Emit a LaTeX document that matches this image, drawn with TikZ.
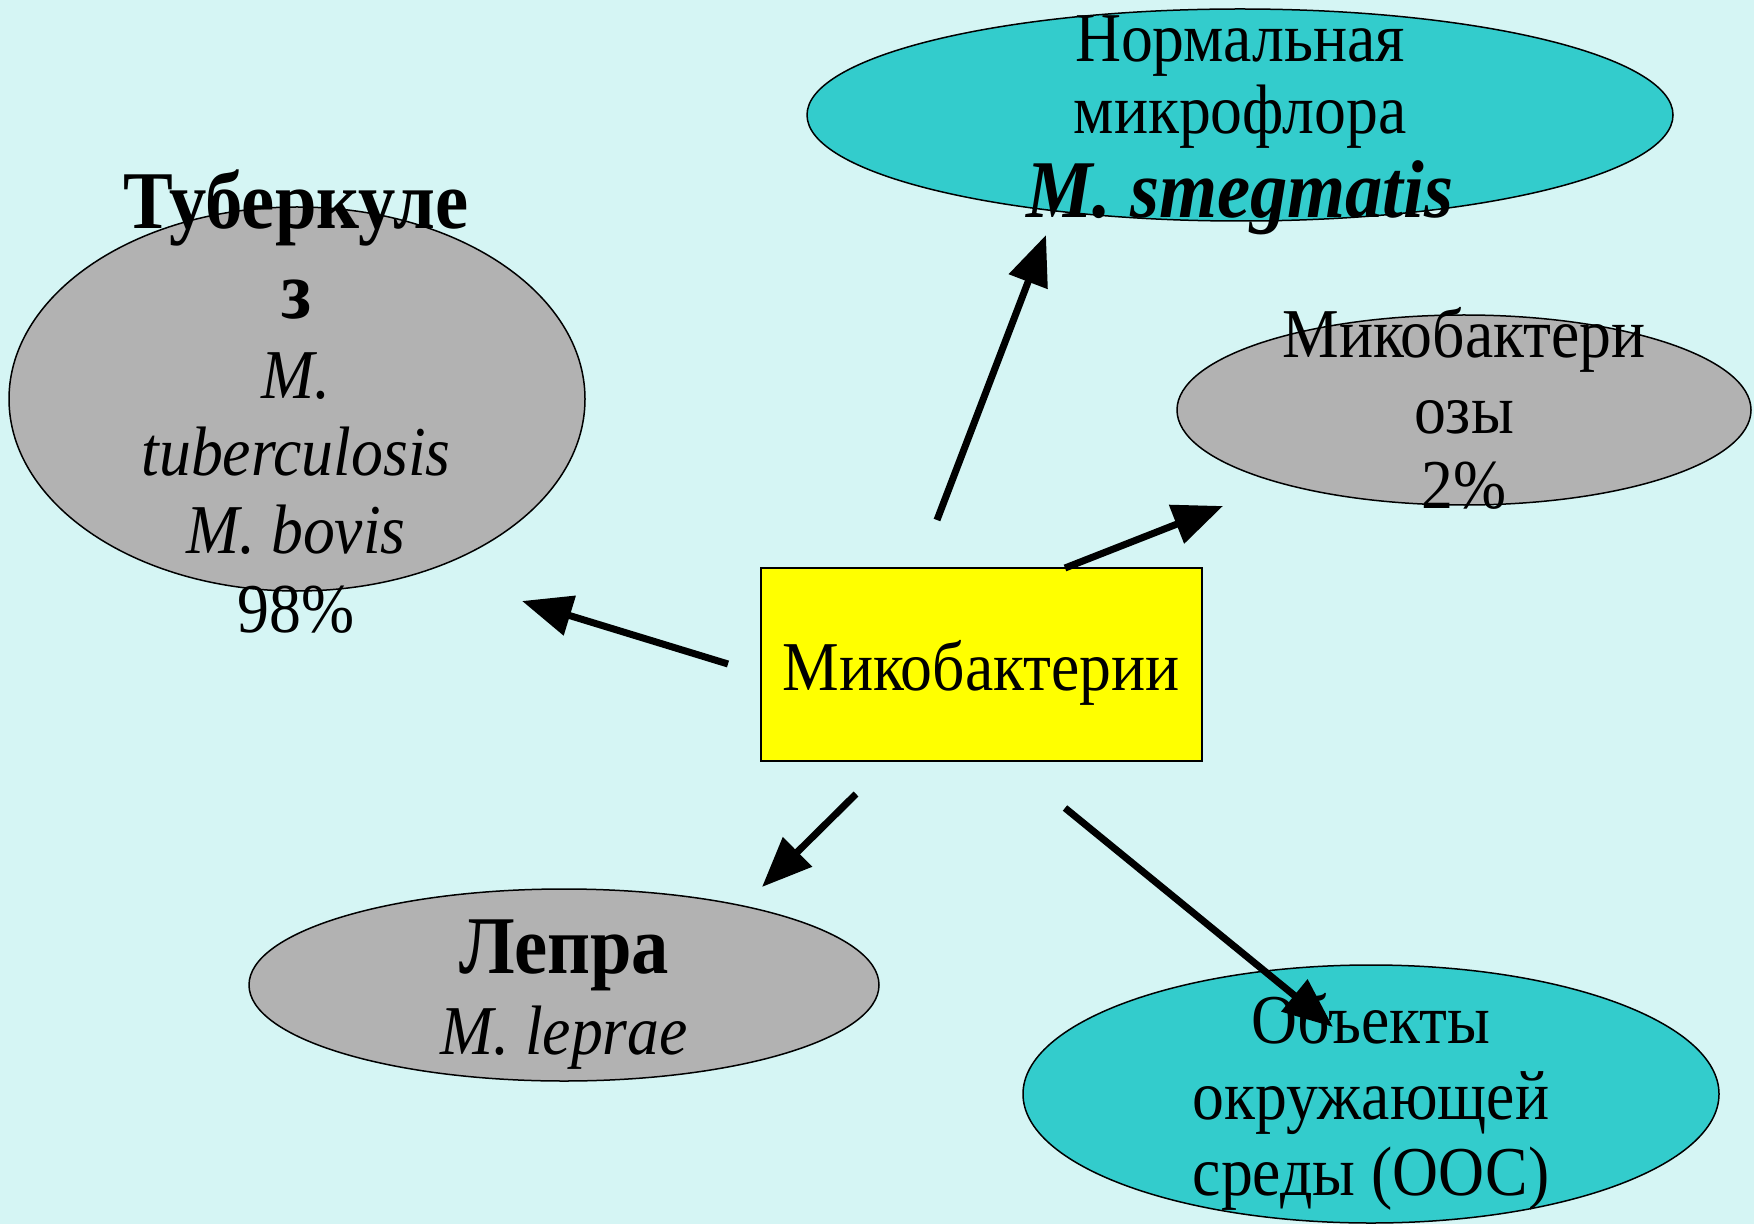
\documentclass[tikz,border=0pt]{standalone}
\usepackage{fontspec}
\setmainfont{Liberation Serif}[FakeStretch=0.91]
\usetikzlibrary{shapes.geometric,arrows.meta}
\definecolor{bgcol}{HTML}{D5F5F4}
\definecolor{tealfill}{HTML}{33CCCC}
\definecolor{grayfill}{HTML}{B2B2B2}
\definecolor{yellowfill}{HTML}{FFFF00}
\begin{document}
\begin{tikzpicture}[x=0.5pt,y=-0.5pt,
  blob/.style={ellipse, draw=black, line width=0.75pt, inner sep=0pt},
  txt/.style={anchor=base, inner sep=0pt, font=\fontsize{35}{39}\selectfont},
  btxt/.style={anchor=base, inner sep=0pt, font=\fontsize{41}{46}\selectfont\bfseries},
  itxt/.style={anchor=base, inner sep=0pt, font=\fontsize{35}{39}\selectfont\itshape},
  bitxt/.style={anchor=base, inner sep=0pt, font=\fontsize{41}{46}\selectfont\bfseries\itshape},
  arr/.style={line width=3.5pt, -{Triangle[length=25pt,width=20pt]}}]
\useasboundingbox (0,0) rectangle (1754,1224);
\fill[bgcol] (0,0) rectangle (1754,1224);
% shapes
\node[blob, fill=tealfill, minimum width=433pt, minimum height=106pt] (norm) at (1240,115) {};
\node[blob, fill=grayfill, minimum width=288pt, minimum height=192pt] (tb) at (297,399) {};
\node[blob, fill=grayfill, minimum width=287pt, minimum height=95pt] (myc) at (1464,410) {};
\node[blob, fill=grayfill, minimum width=315pt, minimum height=96pt] (lep) at (564,985) {};
\node[blob, fill=tealfill, minimum width=348pt, minimum height=129pt] (oos) at (1371,1094) {};
\node[draw=black, line width=1pt, fill=yellowfill, minimum width=220.5pt, minimum height=96.5pt, inner sep=0pt] (mb) at (981.5,664.5) {};
% texts
\node[txt] (norm1) at (1240,62) {Нормальная};
\node[txt] (norm2) at (1240,134) {микрофлора};
\node[bitxt] (norm3) at (1240,218) {M. smegmatis};
\node[btxt] (tb1) at (296,229) {Туберкуле};
\node[btxt] (tb2) at (296,319) {з};
\node[itxt] (tb3) at (296,399) {M.};
\node[itxt] (tb4) at (296,475) {tuberculosis};
\node[itxt] (tb5) at (296,553) {M. bovis};
\node[txt] (tb6) at (296,632) {98\%};
\node[txt] (myc1) at (1464,358) {Микобактери};
\node[txt] (myc2) at (1464,434) {озы};
\node[txt] (myc3) at (1464,509) {2\%};
\node[btxt] (lep1) at (564,973) {Лепра};
\node[itxt] (lep2) at (564,1054) {M. leprae};
\node[txt] (oos1) at (1371,1043) {Объекты};
\node[txt] (oos2) at (1371,1119) {окружающей};
\node[txt] (oos3) at (1371,1195) {среды (ООС)};
\node[txt] (mb1) at (981,690) {Микобактерии};
% arrows
\coordinate (a1s) at (937,520); \coordinate (a1e) at (1046,235);
\coordinate (a2s) at (1065,568); \coordinate (a2e) at (1223,506);
\coordinate (a3s) at (728,664); \coordinate (a3e) at (522,601);
\coordinate (a4s) at (856,794); \coordinate (a4e) at (762,887);
\coordinate (a5s) at (1065,808); \coordinate (a5e) at (1333,1027);
\draw[arr] (a1s) -- (a1e);
\draw[arr] (a2s) -- (a2e);
\draw[arr] (a3s) -- (a3e);
\draw[arr] (a4s) -- (a4e);
\draw[arr] (a5s) -- (a5e);
\end{tikzpicture}
\end{document}
